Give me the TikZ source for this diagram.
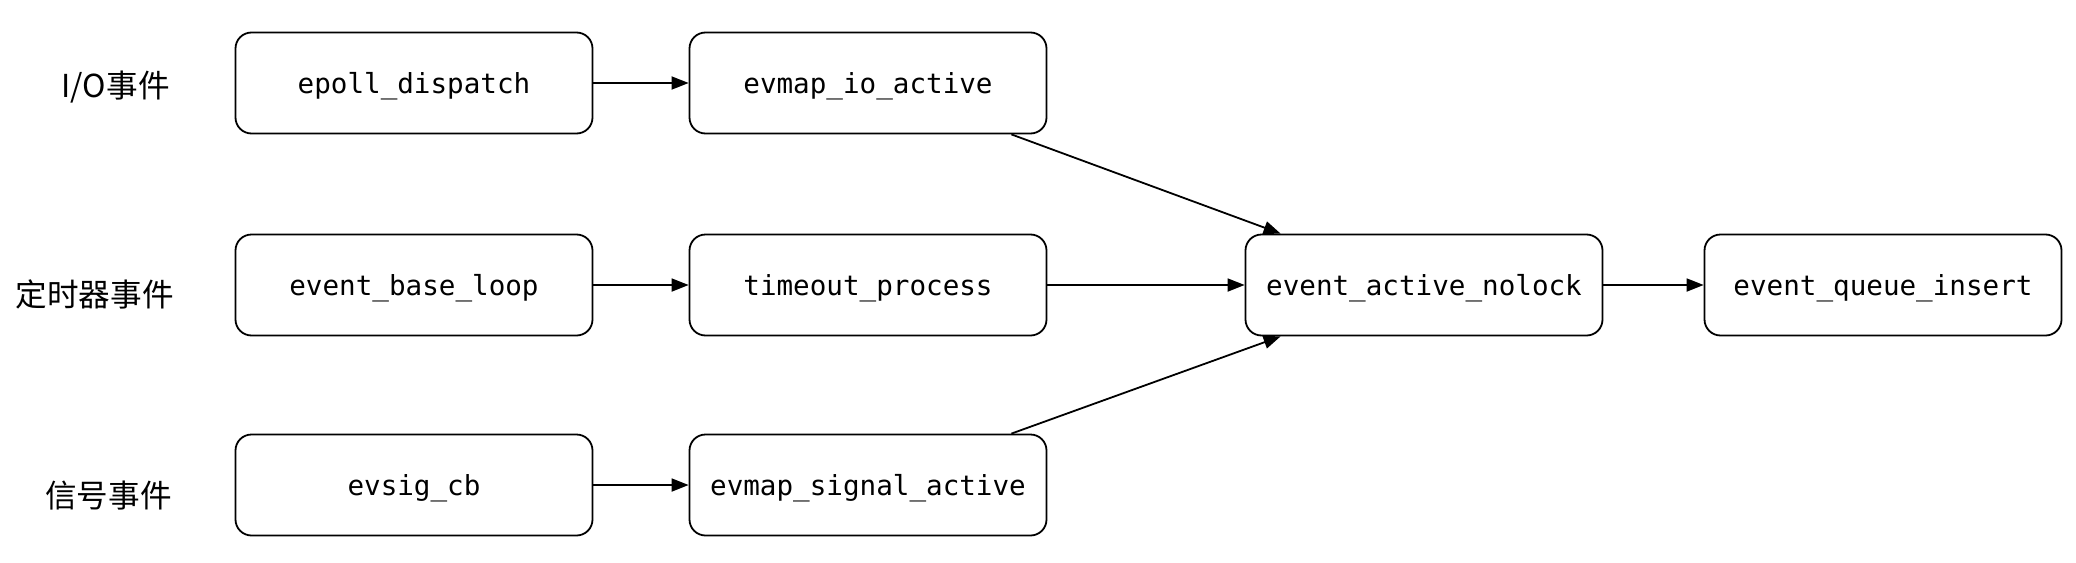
\documentclass[tikz,border=0pt]{standalone}
\usepackage{fontspec}
\setmonofont{DejaVu Sans Mono}
\newfontfamily\cjk{Noto Sans CJK SC}
\usetikzlibrary{arrows.meta}
\begin{document}
\begin{tikzpicture}[x=0.5pt,y=-0.5pt,
  fn/.style={draw, line width=0.9pt, rounded corners=8pt, minimum width=178.5pt, minimum height=50.5pt, font=\ttfamily\fontsize{13.8}{16}\selectfont, inner sep=0pt, text height=12pt, text depth=2pt},
  lbl/.style={anchor=east, font=\cjk\fontsize{15.8}{18}\selectfont, inner sep=0pt},
  arr/.style={line width=0.9pt, -{Triangle[length=8.5pt,width=6.5pt]}}]
\useasboundingbox (0,0) rectangle (2076,562);
\node[lbl] (l1) at (170,87) {I/O事件};
\node[lbl] (l2) at (174,294) {定时器事件};
\node[lbl] (l3) at (172,496) {信号事件};
\node[fn] (a1) at (414,83) {epoll\_dispatch};
\node[fn] (b1) at (868,83) {evmap\_io\_active};
\node[fn] (a2) at (414,285) {event\_base\_loop};
\node[fn] (b2) at (868,285) {timeout\_process};
\node[fn] (a3) at (414,485) {evsig\_cb};
\node[fn] (b3) at (868,485) {evmap\_signal\_active};
\node[fn] (c) at (1424,285) {event\_active\_nolock};
\node[fn] (d) at (1883,285) {event\_queue\_insert};
\draw[arr] (a1) -- (b1);
\draw[arr] (a2) -- (b2);
\draw[arr] (a3) -- (b3);
\draw[arr] (b2) -- (c);
\draw[arr] (c) -- (d);
\draw[arr] ([xshift=-18pt]b1.south east) -- ([xshift=18pt]c.north west);
\draw[arr] ([xshift=-18pt]b3.north east) -- ([xshift=18pt]c.south west);
\end{tikzpicture}
\end{document}
